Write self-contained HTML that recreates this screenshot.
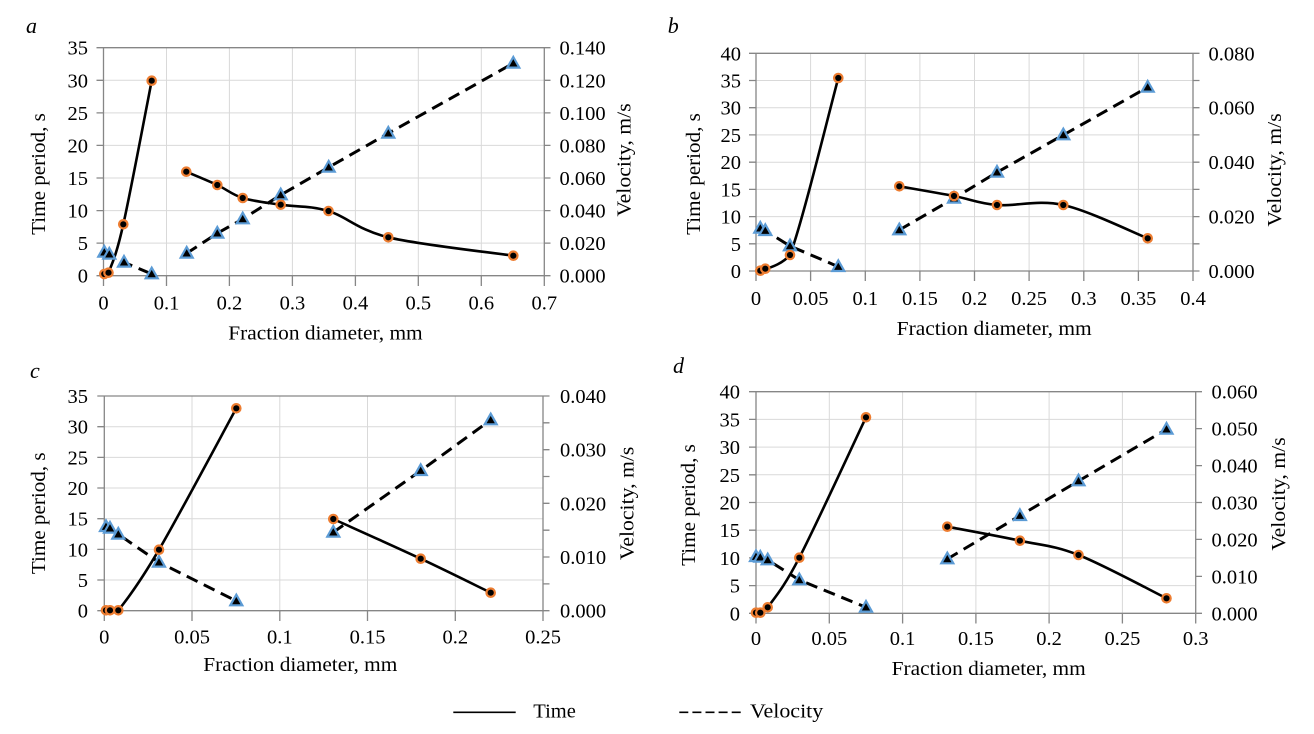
<!DOCTYPE html>
<html>
<head>
<meta charset="utf-8">
<style>
  html,body{margin:0;padding:0;background:#fff;}
  svg{display:block;}
  text{font-family:"Liberation Serif","Times New Roman",serif;fill:#000;}
  .t{font-size:20.5px;}
  .grid{stroke:#d9d9d9;stroke-width:1;fill:none;}
  .ax{stroke:#868686;stroke-width:1.3;fill:none;}
  .sol{stroke:#000;stroke-width:2.6;fill:none;stroke-linejoin:round;stroke-linecap:round;}
  .dsh{stroke:#000;stroke-width:3;fill:none;stroke-dasharray:12 7;}
  .c{fill:#000;stroke:#ed7d31;stroke-width:2.2;}
</style>
</head>
<body>
<svg width="1314" height="734" viewBox="0 0 1314 734" xmlns="http://www.w3.org/2000/svg">
<defs>
  <polygon id="tri" points="0,-6.3 6,4.3 -6,4.3" fill="#000" stroke="#5b9bd5" stroke-width="2.2" stroke-linejoin="miter"/>
</defs>
<rect width="1314" height="734" fill="#fff"/>

<!-- ================= PANEL A ================= -->
<g>
  <path class="grid" d="M166.5,47.7V275.7M229.4,47.7V275.7M292.4,47.7V275.7M355.4,47.7V275.7M418.3,47.7V275.7M481.3,47.7V275.7
  M103.5,243.1H544.3M103.5,210.6H544.3M103.5,178H544.3M103.5,145.4H544.3M103.5,112.9H544.3M103.5,80.3H544.3"/>
  <path class="ax" d="M103.5,47.7H544.3M103.5,275.7H544.3M103.5,47.7V286M544.3,47.7V286
  M96.5,275.7H103.5M96.5,243.1H103.5M96.5,210.6H103.5M96.5,178H103.5M96.5,145.4H103.5M96.5,112.9H103.5M96.5,80.3H103.5M96.5,47.7H103.5
  M544.3,275.7H550.5M544.3,243.1H550.5M544.3,210.6H550.5M544.3,178H550.5M544.3,145.4H550.5M544.3,112.9H550.5M544.3,80.3H550.5M544.3,47.7H550.5
  M166.5,275.7V286M229.4,275.7V286M292.4,275.7V286M355.4,275.7V286M418.3,275.7V286M481.3,275.7V286"/>
  <g class="t" text-anchor="end">
    <text x="88" y="282.7">0</text><text x="88" y="250.1">5</text><text x="88" y="217.6">10</text><text x="88" y="185">15</text>
    <text x="88" y="152.4">20</text><text x="88" y="119.9">25</text><text x="88" y="87.3">30</text><text x="88" y="54.7">35</text>
  </g>
  <g class="t">
    <text x="559.5" y="282.7">0.000</text><text x="559.5" y="250.1">0.020</text><text x="559.5" y="217.6">0.040</text><text x="559.5" y="185">0.060</text>
    <text x="559.5" y="152.4">0.080</text><text x="559.5" y="119.9">0.100</text><text x="559.5" y="87.3">0.120</text><text x="559.5" y="54.7">0.140</text>
  </g>
  <g class="t" text-anchor="middle">
    <text x="103.5" y="309.5">0</text><text x="166.5" y="309.5">0.1</text><text x="229.4" y="309.5">0.2</text><text x="292.4" y="309.5">0.3</text>
    <text x="355.4" y="309.5">0.4</text><text x="418.3" y="309.5">0.5</text><text x="481.3" y="309.5">0.6</text><text x="544.3" y="309.5">0.7</text>
  </g>
  <text class="t" x="228.3" y="339.3" textLength="194.4" lengthAdjust="spacingAndGlyphs">Fraction diameter, mm</text>
  <text class="t" transform="translate(45,174) rotate(-90)" text-anchor="middle" textLength="121.7" lengthAdjust="spacingAndGlyphs">Time period, s</text>
  <text class="t" transform="translate(630.3,160) rotate(-90)" text-anchor="middle" textLength="113.3" lengthAdjust="spacingAndGlyphs">Velocity, m/s</text>
  <text x="26" y="33" style="font-size:22px;font-style:italic;">a</text>

  <path class="dsh" d="M104.3,252.3L109.3,254.3L124,262.3L151.7,274M186.7,253.3L217.3,233.3L242.7,219L280.7,195L328.7,167.3L388.3,133.3L513.3,63.3"/>
  <path class="sol" d="M104.3,274C105,273.8 106.5,274.5 108.5,272.7C111.7,264.4 116.1,256.3 123.3,224.3C130.5,192.3 147,104.6 151.7,80.7"/>
  <path class="sol" d="M186.3,171.7C191.47,173.92 207.9,180.62 217.3,185C226.7,189.38 232.13,194.72 242.7,198C253.27,201.28 266.4,202.53 280.7,204.7C295,206.87 310.57,205.57 328.5,211C346.43,216.43 357.5,229.85 388.3,237.3C419.1,244.75 492.47,252.63 513.3,255.7"/>
  <g>
    <use href="#tri" x="104.3" y="252.3"/><use href="#tri" x="109.3" y="254.3"/><use href="#tri" x="124" y="262.3"/><use href="#tri" x="151.7" y="274"/>
    <use href="#tri" x="186.7" y="253.3"/><use href="#tri" x="217.3" y="233.3"/><use href="#tri" x="242.7" y="219"/><use href="#tri" x="280.7" y="195"/>
    <use href="#tri" x="328.7" y="167.3"/><use href="#tri" x="388.3" y="133.3"/><use href="#tri" x="513.3" y="63.3"/>
  </g>
  <g>
    <circle class="c" cx="104.3" cy="274" r="4.2"/><circle class="c" cx="108.5" cy="272.7" r="4.2"/><circle class="c" cx="123.3" cy="224.3" r="4.2"/><circle class="c" cx="151.7" cy="80.7" r="4.2"/>
    <circle class="c" cx="186.3" cy="171.7" r="4.2"/><circle class="c" cx="217.3" cy="185" r="4.2"/><circle class="c" cx="242.7" cy="198" r="4.2"/><circle class="c" cx="280.7" cy="204.7" r="4.2"/>
    <circle class="c" cx="328.5" cy="211" r="4.2"/><circle class="c" cx="388.3" cy="237.3" r="4.2"/><circle class="c" cx="513.3" cy="255.7" r="4.2"/>
  </g>
</g>

<!-- ================= PANEL B ================= -->
<g>
  <path class="grid" d="M810.6,53.3V271M865.3,53.3V271M919.9,53.3V271M974.5,53.3V271M1029.1,53.3V271M1083.8,53.3V271M1138.4,53.3V271
  M756,243.8H1193M756,216.6H1193M756,189.4H1193M756,162.2H1193M756,134.9H1193M756,107.7H1193M756,80.5H1193"/>
  <path class="ax" d="M756,53.3H1193M756,271H1193M756,53.3V281M1193,53.3V281
  M749,271H756M749,243.8H756M749,216.6H756M749,189.4H756M749,162.2H756M749,134.9H756M749,107.7H756M749,80.5H756M749,53.3H756
  M1193,271H1199.5M1193,243.8H1199.5M1193,216.6H1199.5M1193,189.4H1199.5M1193,162.2H1199.5M1193,134.9H1199.5M1193,107.7H1199.5M1193,80.5H1199.5M1193,53.3H1199.5
  M810.6,271V281M865.3,271V281M919.9,271V281M974.5,271V281M1029.1,271V281M1083.8,271V281M1138.4,271V281"/>
  <g class="t" text-anchor="end">
    <text x="741" y="278">0</text><text x="741" y="250.8">5</text><text x="741" y="223.6">10</text><text x="741" y="196.4">15</text><text x="741" y="169.2">20</text>
    <text x="741" y="141.9">25</text><text x="741" y="114.7">30</text><text x="741" y="87.5">35</text><text x="741" y="60.3">40</text>
  </g>
  <g class="t">
    <text x="1208.5" y="278">0.000</text><text x="1208.5" y="223.6">0.020</text><text x="1208.5" y="169.2">0.040</text><text x="1208.5" y="114.7">0.060</text><text x="1208.5" y="60.3">0.080</text>
  </g>
  <g class="t" text-anchor="middle">
    <text x="756" y="305">0</text><text x="810.6" y="305">0.05</text><text x="865.3" y="305">0.1</text><text x="919.9" y="305">0.15</text><text x="974.5" y="305">0.2</text>
    <text x="1029.1" y="305">0.25</text><text x="1083.8" y="305">0.3</text><text x="1138.4" y="305">0.35</text><text x="1193" y="305">0.4</text>
  </g>
  <text class="t" x="896.7" y="334.8" textLength="195" lengthAdjust="spacingAndGlyphs">Fraction diameter, mm</text>
  <text class="t" transform="translate(700,174) rotate(-90)" text-anchor="middle" textLength="121.7" lengthAdjust="spacingAndGlyphs">Time period, s</text>
  <text class="t" transform="translate(1281,170) rotate(-90)" text-anchor="middle" textLength="113.3" lengthAdjust="spacingAndGlyphs">Velocity, m/s</text>
  <text x="667.7" y="33" style="font-size:22px;font-style:italic;">b</text>

  <path class="dsh" d="M760.3,228.3L765.3,230.7L790,246L838.3,266.7M899.3,230L954,198.3L997,172.3L1063.3,135L1147.7,87.3"/>
  <path class="sol" d="M760.3,270.7C761.13,270.37 763.5,269.5 765.3,268.7C772,267.5 783,263 790,255C802.17,223.22 830.25,107.5 838.3,78"/>
  <path class="sol" d="M899.3,186.3C908.42,187.92 937.72,192.88 954,196C970.28,199.12 978.78,203.5 997,205C1015.22,206.5 1038.18,199.45 1063.3,205C1088.42,210.55 1133.63,232.75 1147.7,238.3"/>
  <g>
    <use href="#tri" x="760.3" y="228.3"/><use href="#tri" x="765.3" y="230.7"/><use href="#tri" x="790" y="246"/><use href="#tri" x="838.3" y="266.7"/>
    <use href="#tri" x="899.3" y="230"/><use href="#tri" x="954" y="198.3"/><use href="#tri" x="997" y="172.3"/><use href="#tri" x="1063.3" y="135"/><use href="#tri" x="1147.7" y="87.3"/>
  </g>
  <g>
    <circle class="c" cx="760.3" cy="270.7" r="4.2"/><circle class="c" cx="765.3" cy="268.7" r="4.2"/><circle class="c" cx="790" cy="255" r="4.2"/><circle class="c" cx="838.3" cy="78" r="4.2"/>
    <circle class="c" cx="899.3" cy="186.3" r="4.2"/><circle class="c" cx="954" cy="196" r="4.2"/><circle class="c" cx="997" cy="205" r="4.2"/><circle class="c" cx="1063.3" cy="205" r="4.2"/><circle class="c" cx="1147.7" cy="238.3" r="4.2"/>
  </g>
</g>

<!-- ================= PANEL C ================= -->
<g>
  <path class="grid" d="M192,396V610.7M279.8,396V610.7M367.5,396V610.7M455.3,396V610.7
  M104.3,580H543M104.3,549.4H543M104.3,518.7H543M104.3,488H543M104.3,457.4H543M104.3,426.7H543"/>
  <path class="ax" d="M104.3,396H543M104.3,610.7H543M104.3,396V621M543,396V621
  M97.3,610.7H104.3M97.3,580H104.3M97.3,549.4H104.3M97.3,518.7H104.3M97.3,488H104.3M97.3,457.4H104.3M97.3,426.7H104.3M97.3,396H104.3
  M543,610.7H549.5M543,583.9H549.5M543,557H549.5M543,530.2H549.5M543,503.3H549.5M543,476.5H549.5M543,449.7H549.5M543,422.8H549.5M543,396H549.5
  M192,610.7V621M279.8,610.7V621M367.5,610.7V621M455.3,610.7V621"/>
  <g class="t" text-anchor="end">
    <text x="88" y="617.7">0</text><text x="88" y="587">5</text><text x="88" y="556.4">10</text><text x="88" y="525.7">15</text>
    <text x="88" y="495">20</text><text x="88" y="464.4">25</text><text x="88" y="433.7">30</text><text x="88" y="403">35</text>
  </g>
  <g class="t">
    <text x="560" y="617.7">0.000</text><text x="560" y="564">0.010</text><text x="560" y="510.3">0.020</text><text x="560" y="456.7">0.030</text><text x="560" y="403">0.040</text>
  </g>
  <g class="t" text-anchor="middle">
    <text x="104.3" y="643.5">0</text><text x="192" y="643.5">0.05</text><text x="279.8" y="643.5">0.1</text><text x="367.5" y="643.5">0.15</text><text x="455.3" y="643.5">0.2</text><text x="543" y="643.5">0.25</text>
  </g>
  <text class="t" x="203.3" y="671" textLength="194" lengthAdjust="spacingAndGlyphs">Fraction diameter, mm</text>
  <text class="t" transform="translate(45,513.3) rotate(-90)" text-anchor="middle" textLength="121.7" lengthAdjust="spacingAndGlyphs">Time period, s</text>
  <text class="t" transform="translate(633.5,503.3) rotate(-90)" text-anchor="middle" textLength="113.3" lengthAdjust="spacingAndGlyphs">Velocity, m/s</text>
  <text x="30" y="378" style="font-size:22px;font-style:italic;">c</text>

  <path class="dsh" d="M106,526.7L110,528.3L118.3,534.3L159,562.3L236.3,601M333.3,532.3L420.7,470.7L490.7,420"/>
  <path class="sol" d="M106,610.3L118.3,610.3C126.47,600.2 139.33,583.37 159,549.7C178.67,516.03 223.42,431.87 236.3,408.3"/>
  <path class="sol" d="M333.3,519C347.87,525.62 394.47,546.42 420.7,558.7C446.93,570.98 479.03,587.03 490.7,592.7"/>
  <g>
    <use href="#tri" x="106" y="526.7"/><use href="#tri" x="110" y="528.3"/><use href="#tri" x="118.3" y="534.3"/><use href="#tri" x="159" y="562.3"/><use href="#tri" x="236.3" y="601"/>
    <use href="#tri" x="333.3" y="532.3"/><use href="#tri" x="420.7" y="470.7"/><use href="#tri" x="490.7" y="420"/>
  </g>
  <g>
    <circle class="c" cx="106" cy="610.3" r="4.2"/><circle class="c" cx="110" cy="610.3" r="4.2"/><circle class="c" cx="118.3" cy="610.3" r="4.2"/><circle class="c" cx="159" cy="549.7" r="4.2"/><circle class="c" cx="236.3" cy="408.3" r="4.2"/>
    <circle class="c" cx="333.3" cy="519" r="4.2"/><circle class="c" cx="420.7" cy="558.7" r="4.2"/><circle class="c" cx="490.7" cy="592.7" r="4.2"/>
  </g>
</g>

<!-- ================= PANEL D ================= -->
<g>
  <path class="grid" d="M829.3,391.7V613.3M902.6,391.7V613.3M975.9,391.7V613.3M1049.1,391.7V613.3M1122.4,391.7V613.3
  M756,585.6H1195.7M756,557.9H1195.7M756,530.2H1195.7M756,502.5H1195.7M756,474.8H1195.7M756,447.1H1195.7M756,419.4H1195.7"/>
  <path class="ax" d="M756,391.7H1195.7M756,613.3H1195.7M756,391.7V623.5M1195.7,391.7V623.5
  M749,613.3H756M749,585.6H756M749,557.9H756M749,530.2H756M749,502.5H756M749,474.8H756M749,447.1H756M749,419.4H756M749,391.7H756
  M1195.7,613.3H1202M1195.7,576.4H1202M1195.7,539.4H1202M1195.7,502.5H1202M1195.7,465.6H1202M1195.7,428.6H1202M1195.7,391.7H1202
  M829.3,613.3V623.5M902.6,613.3V623.5M975.9,613.3V623.5M1049.1,613.3V623.5M1122.4,613.3V623.5"/>
  <g class="t" text-anchor="end">
    <text x="740" y="620.3">0</text><text x="740" y="592.6">5</text><text x="740" y="564.9">10</text><text x="740" y="537.2">15</text><text x="740" y="509.5">20</text>
    <text x="740" y="481.8">25</text><text x="740" y="454.1">30</text><text x="740" y="426.4">35</text><text x="740" y="398.7">40</text>
  </g>
  <g class="t">
    <text x="1211.5" y="620.3">0.000</text><text x="1211.5" y="583.4">0.010</text><text x="1211.5" y="546.4">0.020</text><text x="1211.5" y="509.5">0.030</text>
    <text x="1211.5" y="472.6">0.040</text><text x="1211.5" y="435.6">0.050</text><text x="1211.5" y="398.7">0.060</text>
  </g>
  <g class="t" text-anchor="middle">
    <text x="756" y="645">0</text><text x="829.3" y="645">0.05</text><text x="902.6" y="645">0.1</text><text x="975.9" y="645">0.15</text>
    <text x="1049.1" y="645">0.2</text><text x="1122.4" y="645">0.25</text><text x="1195.7" y="645">0.3</text>
  </g>
  <text class="t" x="891.7" y="675" textLength="194" lengthAdjust="spacingAndGlyphs">Fraction diameter, mm</text>
  <text class="t" transform="translate(695,505) rotate(-90)" text-anchor="middle" textLength="121.7" lengthAdjust="spacingAndGlyphs">Time period, s</text>
  <text class="t" transform="translate(1285,494) rotate(-90)" text-anchor="middle" textLength="113.3" lengthAdjust="spacingAndGlyphs">Velocity, m/s</text>
  <text x="673" y="373" style="font-size:22px;font-style:italic;">d</text>

  <path class="dsh" d="M756,556.7L760.3,557.3L767.7,560L799.3,580L866,607.3M947.3,559L1019.9,515.7L1078.5,481L1166.5,429.3"/>
  <path class="sol" d="M756,612.7L760.3,612.7C762.25,611.8 765,610 767.7,607.3C774.2,598.13 782.92,589.37 799.3,557.7C815.68,526.03 854.88,440.7 866,417.3"/>
  <path class="sol" d="M947.3,526.7C959.4,529.03 998.03,535.98 1019.9,540.7C1041.77,545.42 1054.07,545.4 1078.5,555C1102.93,564.6 1151.83,591.08 1166.5,598.3"/>
  <g>
    <use href="#tri" x="756" y="556.7"/><use href="#tri" x="760.3" y="557.3"/><use href="#tri" x="767.7" y="560"/><use href="#tri" x="799.3" y="580"/><use href="#tri" x="866" y="607.3"/>
    <use href="#tri" x="947.3" y="559"/><use href="#tri" x="1019.9" y="515.7"/><use href="#tri" x="1078.5" y="481"/><use href="#tri" x="1166.5" y="429.3"/>
  </g>
  <g>
    <circle class="c" cx="756" cy="612.7" r="4.2"/><circle class="c" cx="760.3" cy="612.7" r="4.2"/><circle class="c" cx="767.7" cy="607.3" r="4.2"/><circle class="c" cx="799.3" cy="557.7" r="4.2"/><circle class="c" cx="866" cy="417.3" r="4.2"/>
    <circle class="c" cx="947.3" cy="526.7" r="4.2"/><circle class="c" cx="1019.9" cy="540.7" r="4.2"/><circle class="c" cx="1078.5" cy="555" r="4.2"/><circle class="c" cx="1166.5" cy="598.3" r="4.2"/>
  </g>
</g>

<!-- ================= LEGEND ================= -->
<g>
  <line x1="453.3" y1="712.3" x2="515.7" y2="712.3" stroke="#000" stroke-width="1.6"/>
  <text class="t" x="533.3" y="717.5">Time</text>
  <line x1="679.3" y1="712.3" x2="740.7" y2="712.3" stroke="#000" stroke-width="1.6" stroke-dasharray="9 4.1"/>
  <text class="t" x="750" y="717.5" textLength="73.3" lengthAdjust="spacingAndGlyphs">Velocity</text>
</g>
</svg>
</body>
</html>
